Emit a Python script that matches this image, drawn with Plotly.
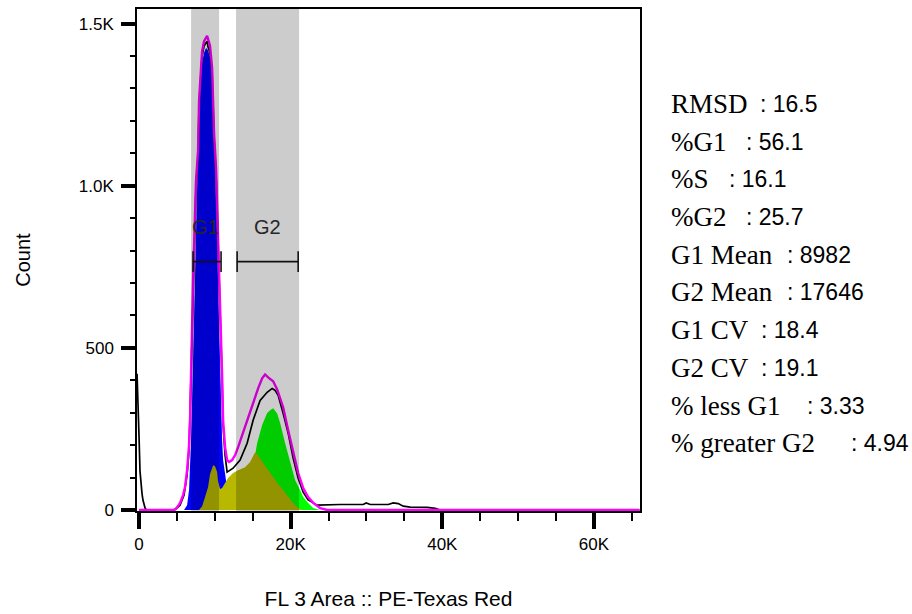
import plotly.graph_objects as go

# ---------------- data ----------------
x_tick_vals = [0, 20000, 40000, 60000]
x_tick_text = ["0", "20K", "40K", "60K"]
y_tick_vals = [0, 500, 1000, 1500]
y_tick_text = ["0", "500", "1.0K", "1.5K"]

# measured histogram (black line)
data_x = [-260, -100, 0, 130, 260, 400, 530, 660, 800, 1000,
          4360, 4880, 5410, 5940, 6340, 6600, 6860, 7130, 7390, 7520,
          7790, 7920, 8180, 8320, 8580, 8840, 8980, 9110, 9370, 9640,
          9770, 9900, 10160, 10300, 10430, 10560, 10820, 10960, 11090, 11350,
          11620, 12410, 13330, 14260, 15050, 15970, 16900, 17560, 17950, 18350,
          19010, 19670, 20330, 20990, 21650, 22310, 22970, 23500, 26530, 29570,
          29960, 30490, 31810, 32870, 33530, 34190, 34850, 35770, 38020, 39070,
          39730, 66000]
data_y = [420, 330, 230, 120, 75, 50, 30, 15, 6, 0,
          0, 3, 15, 46, 108, 185, 415, 692, 898, 1000,
          1092, 1246, 1348, 1400, 1431, 1440, 1446, 1428, 1409, 1348,
          1246, 1145, 1040, 938, 846, 692, 538, 400, 262, 169,
          117, 129, 154, 206, 277, 338, 363, 375, 369, 354,
          298, 237, 160, 98, 55, 31, 22, 15, 17, 17,
          22, 17, 17, 17, 22, 20, 12, 9, 8, 5,
          0, 0]

# model sum (magenta line)
model_x = [0, 4700, 5150, 5410, 5810, 6070, 6340, 6600, 6730, 6860,
           7000, 7130, 7390, 7520, 7790, 7920, 8180, 8320, 8580, 8840,
           8980, 9110, 9370, 9640, 9770, 9900, 10160, 10300, 10430, 10560,
           10820, 10960, 11090, 11350, 11620, 11880, 12280, 12670, 13070, 13730,
           14390, 15050, 15710, 16240, 16630, 17030, 17690, 18220, 19010, 19670,
           20330, 20990, 21650, 22310, 22970, 23890, 24820, 66000]
model_y = [0, 0, 12, 22, 46, 71, 123, 200, 277, 431,
           554, 708, 914, 1015, 1108, 1262, 1363, 1415, 1446, 1458,
           1462, 1452, 1431, 1363, 1262, 1160, 1055, 954, 862, 708,
           554, 415, 277, 194, 154, 148, 154, 169, 194, 240,
           283, 329, 375, 406, 418, 409, 397, 372, 317, 246,
           175, 114, 68, 40, 22, 6, 0, 0]

# G1 component (blue fill)
g1_x = [5940, 6340, 6600, 6730, 6860, 7000, 7130, 7260, 7390, 7520,
        7660, 7790, 7920, 8180, 8320, 8580, 8840, 9110, 9370, 9640,
        9770, 9900, 10030, 10160, 10300, 10430, 10560, 10690, 10820, 10960,
        11090, 11350, 11480, 11750, 12140, 12540]
g1_y = [0, 15, 62, 123, 215, 338, 462, 585, 708, 862,
        985, 1092, 1246, 1330, 1380, 1410, 1425, 1418, 1395, 1340,
        1246, 1145, 1040, 938, 846, 692, 554, 431, 308, 215,
        154, 114, 83, 46, 15, 0]

# S phase component (olive fill)
s_x = [7920, 8320, 8710, 9110, 9370, 9640, 9770, 10030, 10300, 10430,
       10690, 10960, 11350, 11750, 12410, 13070, 13990, 14650, 15310, 15710,
       16370, 17030, 17690, 18350, 19010, 19670, 20330, 20990, 21520]
s_y = [0, 12, 40, 71, 111, 132, 138, 135, 117, 89,
       65, 68, 83, 99, 114, 123, 132, 148, 178, 169,
       145, 123, 102, 80, 62, 40, 22, 6, 0]

# G2 component (green fill)
g2_x = [13070, 13730, 14390, 14920, 15310, 15580, 16240, 16900, 17290, 17690,
        18220, 18610, 19270, 19930, 20590, 21250, 21650, 22310, 22970, 23890]
g2_y = [0, 15, 46, 108, 169, 206, 262, 299, 308, 314,
        298, 268, 206, 145, 92, 62, 40, 22, 6, 0]

# gates
gate_names = ["G1", "G2"]
band_lo = [6870, 12800]
band_hi = [10560, 21110]
marker_lo = [7130, 12940]
marker_hi = [10820, 20990]
marker_count = 766
label_count = 874
label_x = [8710, 16900]

# statistics
stat_labels = ["RMSD", "%G1", "%S", "%G2", "G1 Mean", "G2 Mean",
               "G1 CV", "G2 CV", "% less G1", "% greater G2"]
stat_values = ["16.5", "56.1", "16.1", "25.7", "8982", "17646",
               "18.4", "19.1", "3.33", "4.94"]

# ---------------- figure ----------------
PLOT_L, PLOT_R, PLOT_T, PLOT_B = 137, 640, 9, 511
W, H = 912, 614

fig = go.Figure()

fig.add_trace(go.Scatter(x=g1_x, y=g1_y, mode="lines", fill="tozeroy",
                         fillcolor="#0000ff", line=dict(width=0, color="#0000ff"),
                         hoverinfo="skip", showlegend=False))
fig.add_trace(go.Scatter(x=g2_x, y=g2_y, mode="lines", fill="tozeroy",
                         fillcolor="#00ff00", line=dict(width=0, color="#00ff00"),
                         hoverinfo="skip", showlegend=False))
fig.add_trace(go.Scatter(x=s_x, y=s_y, mode="lines", fill="tozeroy",
                         fillcolor="#b8b800", line=dict(width=0, color="#b8b800"),
                         hoverinfo="skip", showlegend=False))
fig.add_trace(go.Scatter(x=data_x, y=data_y, mode="lines",
                         line=dict(width=1.7, color="#000000"),
                         hoverinfo="skip", showlegend=False))
fig.add_trace(go.Scatter(x=model_x, y=model_y, mode="lines",
                         line=dict(width=2.4, color="#ff00ff"),
                         hoverinfo="skip", showlegend=False))

shapes = []
for lo, hi in zip(band_lo, band_hi):
    shapes.append(dict(type="rect", xref="x", yref="paper", x0=lo, x1=hi, y0=0, y1=1,
                       fillcolor="black", opacity=0.2, line=dict(width=0), layer="above"))
cap = 32
for lo, hi in zip(marker_lo, marker_hi):
    shapes.append(dict(type="line", xref="x", yref="y", x0=lo, x1=hi,
                       y0=marker_count, y1=marker_count,
                       line=dict(color="#111111", width=1.6), layer="above"))
    for xx in (lo, hi):
        shapes.append(dict(type="line", xref="x", yref="y", x0=xx, x1=xx,
                           y0=marker_count - cap, y1=marker_count + cap,
                           line=dict(color="#111111", width=1.6), layer="above"))

annotations = []
for name, lx in zip(gate_names, label_x):
    annotations.append(dict(x=lx, y=label_count, xref="x", yref="y", text=name,
                            showarrow=False, xanchor="center", yanchor="middle",
                            font=dict(family="Liberation Sans", size=20, color="#262626")))

# statistics text block (pixel layout)
line_y_px = [104 + 37.7 * i for i in range(len(stat_labels))]
colon_x_px = [761, 747, 730, 747, 788, 788, 762, 762, 808, 852]
pw = PLOT_R - PLOT_L
ph = PLOT_B - PLOT_T
for lab, val, ypx, cx in zip(stat_labels, stat_values, line_y_px, colon_x_px):
    yp = (PLOT_B - ypx) / ph
    annotations.append(dict(x=(669 - PLOT_L) / pw, y=yp, xref="paper", yref="paper",
                            text=lab, showarrow=False, xanchor="left", yanchor="middle",
                            font=dict(family="Liberation Serif", size=27, color="#000000")))
    annotations.append(dict(x=(cx - 3 - PLOT_L) / pw, y=yp, xref="paper", yref="paper",
                            text=": " + val, showarrow=False, xanchor="left", yanchor="middle",
                            font=dict(family="Liberation Sans", size=23, color="#000000")))

fig.update_layout(
    width=W, height=H,
    margin=dict(l=PLOT_L, r=W - PLOT_R, t=PLOT_T, b=H - PLOT_B, autoexpand=False),
    paper_bgcolor="white", plot_bgcolor="white",
    shapes=shapes, annotations=annotations,
    showlegend=False,
    font=dict(family="Liberation Sans", color="#000000"),
    xaxis=dict(range=[-264, 66070], showgrid=False, zeroline=False,
               showline=True, linecolor="black", linewidth=1.5, mirror=True,
               ticks="outside", ticklen=16, tickwidth=4, tickcolor="black",
               tickvals=x_tick_vals, ticktext=x_tick_text, ticklabelstandoff=1,
               tickfont=dict(family="Liberation Sans", size=17, color="#000000"),
               minor=dict(dtick=5000, tick0=0, ticks="outside", ticklen=8,
                          tickwidth=1.5, tickcolor="black", showgrid=False),
               title=dict(text="FL 3 Area :: PE-Texas Red", standoff=38,
                          font=dict(family="Liberation Sans", size=21, color="#000000"))),
    yaxis=dict(range=[-3, 1545], showgrid=False, zeroline=False,
               showline=True, linecolor="black", linewidth=1.5, mirror=True,
               ticks="outside", ticklen=14, tickwidth=4, tickcolor="black",
               tickvals=y_tick_vals, ticktext=y_tick_text, ticklabelstandoff=4,
               tickfont=dict(family="Liberation Sans", size=17, color="#000000"),
               minor=dict(dtick=100, tick0=0, ticks="outside", ticklen=5,
                          tickwidth=1.5, tickcolor="black", showgrid=False),
               title=dict(text="Count", standoff=43,
                          font=dict(family="Liberation Sans", size=20, color="#000000"))),
)

fig.write_html("out.html")
